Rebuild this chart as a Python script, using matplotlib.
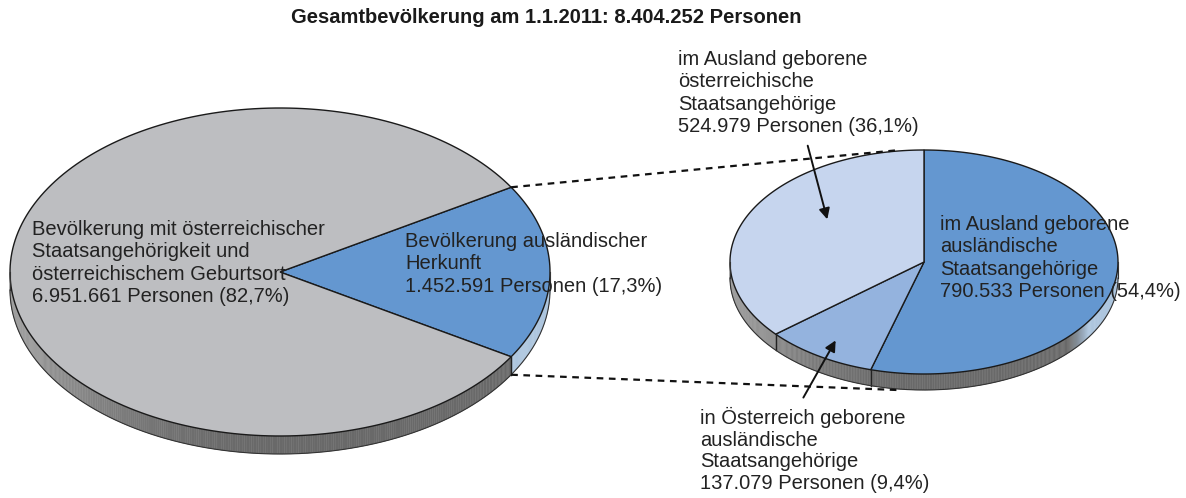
import numpy as np
import matplotlib.pyplot as plt
from matplotlib.patches import Polygon
from matplotlib.colors import to_rgb, rgb_to_hsv

plt.rcParams['font.family'] = ['Liberation Sans', 'DejaVu Sans']

# data
title = "Gesamtbevölkerung am 1.1.2011: 8.404.252 Personen"
main_labels = ["Bevölkerung ausländischer\nHerkunft\n1.452.591 Personen (17,3%)",
               "Bevölkerung mit österreichischer\nStaatsangehörigkeit und\nösterreichischem Geburtsort\n6.951.661 Personen (82,7%)"]
main_values = [1452591, 6951661]
sub_labels = ["im Ausland geborene\nausländische\nStaatsangehörige\n790.533 Personen (54,4%)",
              "in Österreich geborene\nausländische\nStaatsangehörige\n137.079 Personen (9,4%)",
              "im Ausland geborene\nösterreichische\nStaatsangehörige\n524.979 Personen (36,1%)"]
sub_values = [790533, 137079, 524979]

main_colors = ['#6497D0', '#BDBEC1']
sub_colors = ['#6497D0', '#94B3DE', '#C6D5EE']


def pt(cx, cy, a, b, t):
    t = np.radians(t)
    return cx + a * np.cos(t), cy - b * np.sin(t)


def side_color(base, t):
    c = np.cos(np.radians(t))
    v = 0.41 + 0.22 * max(0.0, -c) ** 2
    grey = np.array([v, v, v])
    rgb = np.array(to_rgb(base))
    if rgb_to_hsv(rgb)[1] < 0.1:
        return tuple(grey)
    # coloured slices turn light near the right end of the wall
    light = rgb * 0.4 + 0.6 * np.array([0.86, 0.89, 0.91])
    w = np.clip((c - 0.75) / 0.1, 0, 1)
    return tuple(grey * (1 - w) + light * w)


def draw_pie(ax, cx, cy, a, b, depth, values, colors, start, sign):
    tot = float(sum(values))
    angles = []
    t0 = start
    for v in values:
        t1 = t0 + sign * v / tot * 360
        angles.append((t0, t1))
        t0 = t1
    # side walls
    for (t0, t1), col in zip(angles, colors):
        lo, hi = min(t0, t1), max(t0, t1)
        ts = np.linspace(lo, hi, int(abs(hi - lo) * 2) + 2)
        for u0, u1 in zip(ts[:-1], ts[1:]):
            um = (u0 + u1) / 2
            if np.sin(np.radians(um)) > 0:
                continue
            sc = side_color(col, um)
            x0, y0 = pt(cx, cy, a, b, u0)
            x1, y1 = pt(cx, cy, a, b, u1)
            ax.add_patch(Polygon([(x0, y0), (x1, y1), (x1, y1 + depth), (x0, y0 + depth)],
                                 closed=True, fc=sc, ec=sc, lw=0.3))
        # vertical edges at slice boundaries on the front
        for t in (t0, t1):
            if np.sin(np.radians(t)) < 0:
                x, y = pt(cx, cy, a, b, t)
                ax.plot([x, x], [y, y + depth], color='#222222', lw=0.9)
    # bottom outline of side
    ts = np.linspace(180, 360, 200)
    xs, ys = pt(cx, cy, a, b, ts)
    ax.plot(xs, ys + depth, color='#333333', lw=0.8)
    ax.plot([cx - a, cx - a], [cy, cy + depth], color='#333333', lw=0.8)
    ax.plot([cx + a, cx + a], [cy, cy + depth], color='#333333', lw=0.8)
    # top faces
    for (t0, t1), col in zip(angles, colors):
        ts = np.linspace(t0, t1, 200)
        xs, ys = pt(cx, cy, a, b, ts)
        poly = [(cx, cy)] + list(zip(xs, ys))
        ax.add_patch(Polygon(poly, closed=True, fc=col, ec='#1a1a1a', lw=1.0))
    return angles


fig = plt.figure(figsize=(11.86, 4.98), dpi=100)
ax = fig.add_axes([0, 0, 1, 1])
ax.set_xlim(0, 1186)
ax.set_ylim(498, 0)
ax.axis('off')

# left pie: foreign share centred on the right
share = main_values[0] / float(sum(main_values)) * 360
lcx, lcy, la, lb, ld = 280, 272, 270, 164, 18
main_ang = draw_pie(ax, lcx, lcy, la, lb, ld, main_values, main_colors, -share / 2, 1)

# right pie
rcx, rcy, ra, rb, rd = 924, 262, 194, 112, 16
sub_ang = draw_pie(ax, rcx, rcy, ra, rb, rd, sub_values, sub_colors, 90, -1)

# dashed connectors
x0, y0 = pt(lcx, lcy, la, lb, main_ang[0][1])
ax.plot([x0, 900], [y0, 150], color='#111111', lw=1.6, ls=(0, (3, 2.5)))
x1, y1 = pt(lcx, lcy, la, lb, main_ang[0][0])
ax.plot([x1, 897], [y1 + ld, 390], color='#111111', lw=1.6, ls=(0, (3, 2.5)))

# labels
fs = 14.5
ls = 1.22
tc = '#222222'
ax.text(546, 17, title, ha='center', va='center', fontsize=14.5, fontweight='bold', color='#1a1a1a')
ax.text(32, 220, main_labels[1], ha='left', va='top', fontsize=fs, color=tc, linespacing=ls)
ax.text(405, 232, main_labels[0], ha='left', va='top', fontsize=fs, color=tc, linespacing=ls)
ax.text(940, 215, sub_labels[0], ha='left', va='top', fontsize=fs, color=tc, linespacing=ls)
ax.text(678, 50, sub_labels[2], ha='left', va='top', fontsize=fs, color=tc, linespacing=ls)
ax.text(700, 407, sub_labels[1], ha='left', va='top', fontsize=fs, color=tc, linespacing=1.18)

# arrows
ax.annotate('', xy=(828, 222), xytext=(807, 143),
            arrowprops=dict(arrowstyle='-|>', color='#111111', lw=1.4, mutation_scale=16))
ax.annotate('', xy=(837, 338), xytext=(802, 400),
            arrowprops=dict(arrowstyle='-|>', color='#111111', lw=1.4, mutation_scale=16))

fig.savefig('out.png', dpi=100)
